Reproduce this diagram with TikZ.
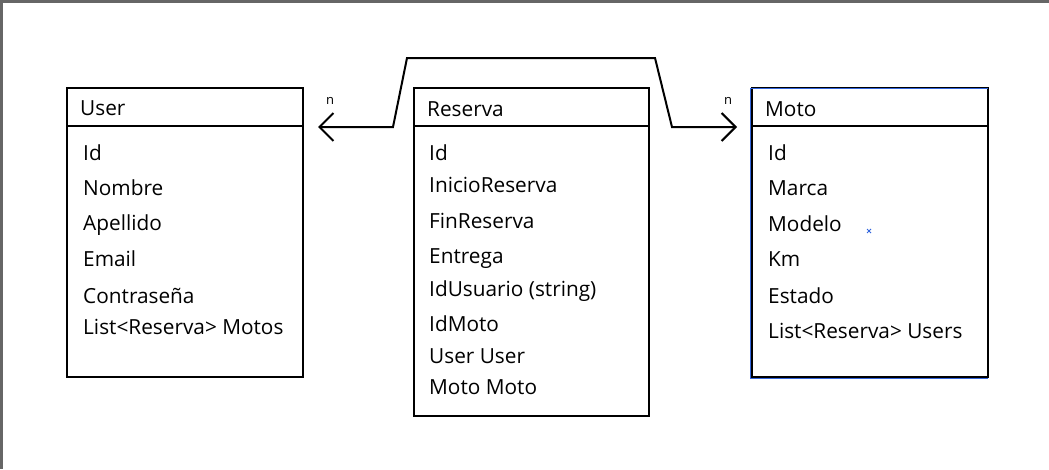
\documentclass[tikz,border=0pt]{standalone}
\usepackage{fontspec}
\setmainfont{Open Sans}
\usetikzlibrary{arrows.meta, positioning}
\definecolor{framegray}{HTML}{666666}
\definecolor{selblue}{HTML}{3366DD}
\tikzstyle{entity} = [rectangle, draw=black, line width=2pt, inner sep=0pt, anchor=north west]
\tikzstyle{field} = [anchor=base west, inner sep=0pt, font=\fontsize{20.8}{24}\selectfont]
\tikzstyle{mult} = [anchor=base, inner sep=0pt, font=\fontsize{13}{14}\selectfont]
\tikzstyle{assoc} = [line width=2pt, {Straight Barb[length=14pt,width=28pt]}-{Straight Barb[length=14pt,width=28pt]}]

\begin{document}
\begin{tikzpicture}[x=1pt, y=-1pt]

\useasboundingbox (0,0) rectangle (1049,469);
\fill[framegray] (0,0) rectangle (1049,3);
\fill[framegray] (0,0) rectangle (3,469);

% entity boxes
\node (user) [entity, minimum width=236pt, minimum height=289pt] at (66,87) {};
\node (reserva) [entity, minimum width=235pt, minimum height=328pt] at (413,87) {};
\node (moto) [entity, minimum width=236pt, minimum height=289pt] at (751,87) {};
\draw[selblue, line width=1pt] (moto.south west) ++(-0.5,0.5) -- ++(0,-290) -- ++(237,0);
\draw[selblue, line width=1pt] (moto.south west) ++(-0.5,0.5) -- ++(237,0);

% header lines
\draw[line width=2pt] (user.north west) ++(0,39) -- ++(236,0);
\draw[line width=2pt] (reserva.north west) ++(0,39) -- ++(235,0);
\draw[line width=2pt] (moto.north west) ++(0,39) -- ++(236,0);

% titles
\node (user-title) [field] at (80,115) {User};
\node (reserva-title) [field] at (427,116) {Reserva};
\node (moto-title) [field] at (765,116) {Moto};

% fields
\foreach \txt/\y in {Id/160, Nombre/195, Apellido/230, Email/266, Contraseña/303, List<Reserva> Motos/334}
  \node (user-\y) [field] at (83,\y) {\txt};
\foreach \txt/\y in {Id/160, InicioReserva/192, FinReserva/228, Entrega/263, IdUsuario (string)/296, IdMoto/331, User User/363, Moto Moto/394}
  \node (reserva-\y) [field] at (429,\y) {\txt};
\foreach \txt/\y in {Id/160, Marca/195, Modelo/231, Km/266, Estado/303, List<Reserva> Users/338}
  \node (moto-\y) [field] at (768,\y) {\txt};

% association over Reserva
\coordinate (user-end) at (318,127);
\coordinate (moto-end) at (737,127);
\draw[assoc] (user-end) -- (393,127) -- (407,58) -- (655,58) -- (672,127) -- (moto-end);
\node (user-n) [mult] at (330,104) {n};
\node (moto-n) [mult] at (728,104) {n};

% stray mark
\draw[selblue, line width=0.8pt] (867,229) -- (871,233) (871,229) -- (867,233);

\end{tikzpicture}
\end{document}
